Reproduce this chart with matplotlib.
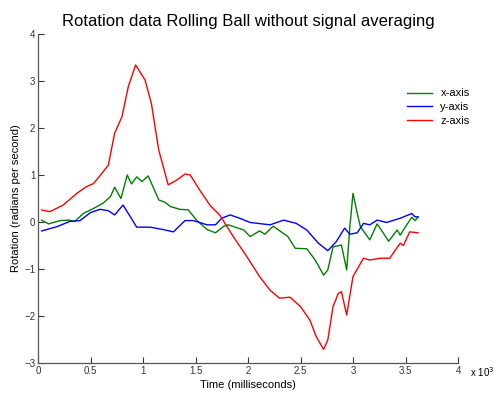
import matplotlib
matplotlib.use("Agg")
import matplotlib.pyplot as plt

plt.rcParams['font.family'] = ['Liberation Sans', 'DejaVu Sans']

# time in units of 10^3 ms
x_t = [0.035, 0.10, 0.21, 0.30, 0.35, 0.43, 0.53, 0.62, 0.69, 0.73, 0.79, 0.85, 0.89, 0.94, 0.99,
       1.05, 1.15, 1.21, 1.26, 1.35, 1.43, 1.51, 1.61, 1.69, 1.77, 1.81, 1.96, 2.02, 2.11, 2.16,
       2.24, 2.38, 2.45, 2.56, 2.64, 2.72, 2.76, 2.81, 2.89, 2.94, 2.97, 3.00, 3.04, 3.07, 3.16,
       3.23, 3.34, 3.42, 3.45, 3.50, 3.56, 3.59, 3.62]
x_v = [0.04, -0.04, 0.03, 0.04, 0.01, 0.18, 0.29, 0.40, 0.54, 0.74, 0.50, 1.00, 0.81, 0.96, 0.86,
       0.98, 0.47, 0.42, 0.33, 0.27, 0.26, 0.04, -0.16, -0.23, -0.09, -0.06, -0.17, -0.31, -0.19, -0.26,
       -0.09, -0.31, -0.56, -0.57, -0.81, -1.13, -1.02, -0.53, -0.49, -1.02, -0.10, 0.61, 0.19, -0.10, -0.38,
       -0.04, -0.41, -0.17, -0.28, -0.10, 0.10, 0.03, 0.10]

y_t = [0.035, 0.18, 0.30, 0.40, 0.50, 0.59, 0.67, 0.73, 0.81, 0.88, 0.94, 1.07, 1.19, 1.29, 1.40,
       1.48, 1.61, 1.69, 1.75, 1.83, 1.92, 2.02, 2.21, 2.34, 2.46, 2.56, 2.67, 2.76, 2.84, 2.92,
       2.97, 3.04, 3.10, 3.16, 3.23, 3.32, 3.45, 3.56, 3.59, 3.62]
y_v = [-0.19, -0.10, 0.01, 0.03, 0.20, 0.27, 0.24, 0.15, 0.36, 0.11, -0.11, -0.11, -0.16, -0.21, 0.03,
       0.03, -0.06, -0.06, 0.08, 0.15, 0.08, -0.01, -0.06, 0.04, -0.03, -0.17, -0.45, -0.61, -0.42, -0.13,
       -0.26, -0.23, -0.03, -0.06, 0.04, -0.01, 0.08, 0.18, 0.11, 0.11]

z_t = [0.035, 0.114, 0.24, 0.37, 0.46, 0.53, 0.61, 0.67, 0.73, 0.80, 0.86, 0.93, 1.02, 1.08, 1.15,
       1.24, 1.32, 1.40, 1.45, 1.54, 1.64, 1.73, 1.86, 1.99, 2.11, 2.21, 2.30, 2.40, 2.50, 2.59,
       2.65, 2.72, 2.76, 2.81, 2.86, 2.89, 2.94, 3.00, 3.10, 3.16, 3.26, 3.35, 3.45, 3.48, 3.54, 3.62]
z_v = [0.255, 0.22, 0.36, 0.61, 0.75, 0.82, 1.04, 1.21, 1.89, 2.24, 2.88, 3.34, 3.02, 2.52, 1.53,
       0.79, 0.89, 1.02, 1.00, 0.68, 0.35, 0.15, -0.31, -0.74, -1.16, -1.45, -1.62, -1.60, -1.80, -2.09,
       -2.44, -2.71, -2.51, -1.80, -1.52, -1.48, -1.98, -1.16, -0.77, -0.81, -0.77, -0.77, -0.45, -0.50, -0.21, -0.23]

labels = ['x-axis', 'y-axis', 'z-axis']
colors = ['#008000', '#0000ff', '#ff0000']

fig = plt.figure(figsize=(4.94, 3.96), dpi=100)
ax = fig.add_axes([38/494, 33/396, 420/494, 329/396])
for t, v, lab, c in zip([x_t, y_t, z_t], [x_v, y_v, z_v], labels, colors):
    ax.plot(t, v, color=c, lw=1.0, label=lab)

ax.set_xlim(0, 4)
ax.set_ylim(-3, 4)
ax.set_xticks([0, 0.5, 1, 1.5, 2, 2.5, 3, 3.5, 4])
ax.set_xticklabels(['0', '0.5', '1', '1.5', '2', '2.5', '3', '3.5', '4'])
ax.set_yticks(range(-3, 5))
ax.tick_params(direction='in', length=4, width=0.8, labelsize=7, colors='#333333', pad=2)
for s in ['top', 'right']:
    ax.spines[s].set_visible(False)
for s in ['left', 'bottom']:
    ax.spines[s].set_color('#555555')
    ax.spines[s].set_linewidth(0.9)

ax.set_title('Rotation data Rolling Ball without signal averaging', fontsize=12, pad=6)
ax.set_xlabel('Time (milliseconds)', fontsize=8, labelpad=3)
ax.set_ylabel('Rotation (radians per second)', fontsize=8, labelpad=2)
fig.text(470/494, 1 - 372/396, 'x 10$^3$', fontsize=7, ha='left', va='center')

ax.legend(loc='upper left', bbox_to_anchor=(0.855, 0.865), frameon=False, fontsize=8,
          handlelength=2.2, labelspacing=0.35, handletextpad=0.8)

fig.savefig('out.png', dpi=100)
